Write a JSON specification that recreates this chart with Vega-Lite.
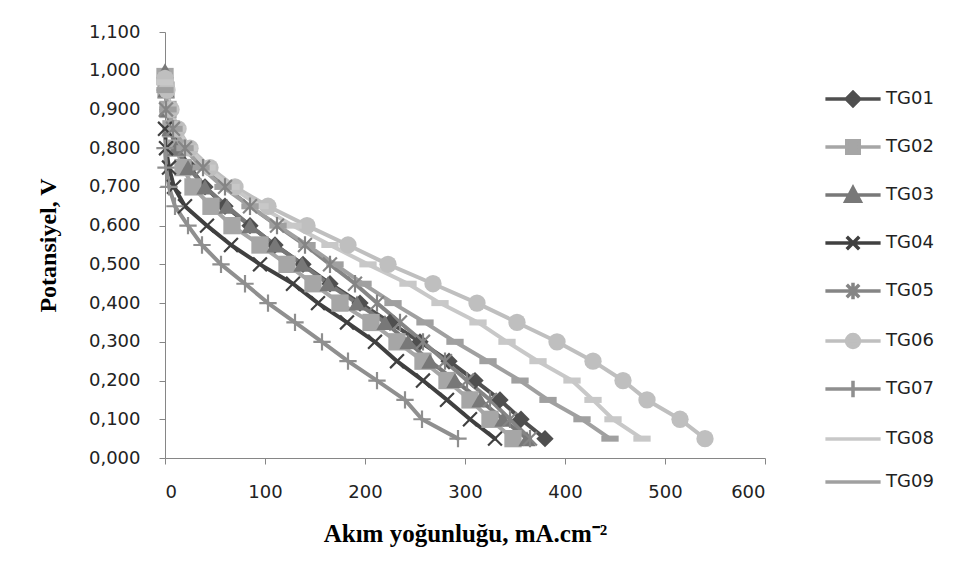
{
  "$schema": "https://vega.github.io/schema/vega-lite/v6.json",
  "width": 600,
  "height": 426,
  "autosize": {"type": "none"},
  "padding": {"left": 165, "top": 32, "right": 195, "bottom": 120},
  "background": "white",
  "config": {"view": {"stroke": null}},
  "data": {"values": [
    {"s":"TG01","i":0,"v":0.95},{"s":"TG01","i":3,"v":0.90},{"s":"TG01","i":7,"v":0.85},{"s":"TG01","i":13,"v":0.80},{"s":"TG01","i":25,"v":0.75},{"s":"TG01","i":40,"v":0.70},{"s":"TG01","i":60,"v":0.65},{"s":"TG01","i":85,"v":0.60},{"s":"TG01","i":110,"v":0.55},{"s":"TG01","i":138,"v":0.50},{"s":"TG01","i":165,"v":0.45},{"s":"TG01","i":195,"v":0.40},{"s":"TG01","i":225,"v":0.35},{"s":"TG01","i":255,"v":0.30},{"s":"TG01","i":284,"v":0.25},{"s":"TG01","i":310,"v":0.20},{"s":"TG01","i":335,"v":0.15},{"s":"TG01","i":356,"v":0.10},{"s":"TG01","i":380,"v":0.05},
    {"s":"TG02","i":0,"v":0.985},{"s":"TG02","i":1,"v":0.95},{"s":"TG02","i":3,"v":0.90},{"s":"TG02","i":6,"v":0.85},{"s":"TG02","i":11,"v":0.80},{"s":"TG02","i":18,"v":0.75},{"s":"TG02","i":28,"v":0.70},{"s":"TG02","i":46,"v":0.65},{"s":"TG02","i":67,"v":0.60},{"s":"TG02","i":95,"v":0.55},{"s":"TG02","i":122,"v":0.50},{"s":"TG02","i":148,"v":0.45},{"s":"TG02","i":175,"v":0.40},{"s":"TG02","i":206,"v":0.35},{"s":"TG02","i":232,"v":0.30},{"s":"TG02","i":258,"v":0.25},{"s":"TG02","i":282,"v":0.20},{"s":"TG02","i":305,"v":0.15},{"s":"TG02","i":325,"v":0.10},{"s":"TG02","i":348,"v":0.05},
    {"s":"TG03","i":0,"v":1.00},{"s":"TG03","i":1,"v":0.95},{"s":"TG03","i":2,"v":0.90},{"s":"TG03","i":5,"v":0.85},{"s":"TG03","i":11,"v":0.80},{"s":"TG03","i":23,"v":0.75},{"s":"TG03","i":40,"v":0.70},{"s":"TG03","i":62,"v":0.65},{"s":"TG03","i":85,"v":0.60},{"s":"TG03","i":110,"v":0.55},{"s":"TG03","i":137,"v":0.50},{"s":"TG03","i":163,"v":0.45},{"s":"TG03","i":192,"v":0.40},{"s":"TG03","i":220,"v":0.35},{"s":"TG03","i":243,"v":0.30},{"s":"TG03","i":265,"v":0.25},{"s":"TG03","i":290,"v":0.20},{"s":"TG03","i":315,"v":0.15},{"s":"TG03","i":338,"v":0.10},{"s":"TG03","i":362,"v":0.05},
    {"s":"TG04","i":0,"v":0.85},{"s":"TG04","i":1,"v":0.80},{"s":"TG04","i":4,"v":0.75},{"s":"TG04","i":9,"v":0.70},{"s":"TG04","i":20,"v":0.65},{"s":"TG04","i":42,"v":0.60},{"s":"TG04","i":66,"v":0.55},{"s":"TG04","i":95,"v":0.50},{"s":"TG04","i":128,"v":0.45},{"s":"TG04","i":153,"v":0.40},{"s":"TG04","i":182,"v":0.35},{"s":"TG04","i":210,"v":0.30},{"s":"TG04","i":232,"v":0.25},{"s":"TG04","i":258,"v":0.20},{"s":"TG04","i":282,"v":0.15},{"s":"TG04","i":305,"v":0.10},{"s":"TG04","i":330,"v":0.05},
    {"s":"TG05","i":1,"v":0.90},{"s":"TG05","i":8,"v":0.85},{"s":"TG05","i":20,"v":0.80},{"s":"TG05","i":38,"v":0.75},{"s":"TG05","i":60,"v":0.70},{"s":"TG05","i":85,"v":0.65},{"s":"TG05","i":112,"v":0.60},{"s":"TG05","i":140,"v":0.55},{"s":"TG05","i":165,"v":0.50},{"s":"TG05","i":190,"v":0.45},{"s":"TG05","i":212,"v":0.40},{"s":"TG05","i":235,"v":0.35},{"s":"TG05","i":258,"v":0.30},{"s":"TG05","i":280,"v":0.25},{"s":"TG05","i":302,"v":0.20},{"s":"TG05","i":325,"v":0.15},{"s":"TG05","i":345,"v":0.10},{"s":"TG05","i":365,"v":0.05},
    {"s":"TG06","i":0,"v":0.98},{"s":"TG06","i":2,"v":0.95},{"s":"TG06","i":6,"v":0.90},{"s":"TG06","i":13,"v":0.85},{"s":"TG06","i":25,"v":0.80},{"s":"TG06","i":45,"v":0.75},{"s":"TG06","i":70,"v":0.70},{"s":"TG06","i":103,"v":0.65},{"s":"TG06","i":142,"v":0.60},{"s":"TG06","i":183,"v":0.55},{"s":"TG06","i":223,"v":0.50},{"s":"TG06","i":268,"v":0.45},{"s":"TG06","i":312,"v":0.40},{"s":"TG06","i":352,"v":0.35},{"s":"TG06","i":392,"v":0.30},{"s":"TG06","i":428,"v":0.25},{"s":"TG06","i":458,"v":0.20},{"s":"TG06","i":482,"v":0.15},{"s":"TG06","i":515,"v":0.10},{"s":"TG06","i":540,"v":0.05},
    {"s":"TG07","i":0,"v":0.80},{"s":"TG07","i":1,"v":0.75},{"s":"TG07","i":4,"v":0.70},{"s":"TG07","i":10,"v":0.65},{"s":"TG07","i":23,"v":0.60},{"s":"TG07","i":37,"v":0.55},{"s":"TG07","i":56,"v":0.50},{"s":"TG07","i":80,"v":0.45},{"s":"TG07","i":103,"v":0.40},{"s":"TG07","i":130,"v":0.35},{"s":"TG07","i":157,"v":0.30},{"s":"TG07","i":183,"v":0.25},{"s":"TG07","i":212,"v":0.20},{"s":"TG07","i":240,"v":0.15},{"s":"TG07","i":257,"v":0.10},{"s":"TG07","i":293,"v":0.05},
    {"s":"TG08","i":0,"v":0.97},{"s":"TG08","i":1,"v":0.95},{"s":"TG08","i":5,"v":0.90},{"s":"TG08","i":12,"v":0.85},{"s":"TG08","i":24,"v":0.80},{"s":"TG08","i":42,"v":0.75},{"s":"TG08","i":66,"v":0.70},{"s":"TG08","i":95,"v":0.65},{"s":"TG08","i":128,"v":0.60},{"s":"TG08","i":165,"v":0.55},{"s":"TG08","i":203,"v":0.50},{"s":"TG08","i":243,"v":0.45},{"s":"TG08","i":275,"v":0.40},{"s":"TG08","i":313,"v":0.35},{"s":"TG08","i":342,"v":0.30},{"s":"TG08","i":373,"v":0.25},{"s":"TG08","i":407,"v":0.20},{"s":"TG08","i":428,"v":0.15},{"s":"TG08","i":448,"v":0.10},{"s":"TG08","i":477,"v":0.05},
    {"s":"TG09","i":0,"v":0.95},{"s":"TG09","i":3,"v":0.90},{"s":"TG09","i":9,"v":0.85},{"s":"TG09","i":20,"v":0.80},{"s":"TG09","i":36,"v":0.75},{"s":"TG09","i":58,"v":0.70},{"s":"TG09","i":85,"v":0.65},{"s":"TG09","i":113,"v":0.60},{"s":"TG09","i":142,"v":0.55},{"s":"TG09","i":170,"v":0.50},{"s":"TG09","i":198,"v":0.45},{"s":"TG09","i":228,"v":0.40},{"s":"TG09","i":260,"v":0.35},{"s":"TG09","i":290,"v":0.30},{"s":"TG09","i":323,"v":0.25},{"s":"TG09","i":355,"v":0.20},{"s":"TG09","i":383,"v":0.15},{"s":"TG09","i":417,"v":0.10},{"s":"TG09","i":445,"v":0.05}
  ]},
  "encoding": {
    "x": {
      "field": "i", "type": "quantitative",
      "scale": {"domain": [0, 600], "nice": false},
      "axis": {
        "title": "Akım yoğunluğu, mA.cm⁻²",
        "values": [0, 100, 200, 300, 400, 500, 600],
        "grid": false, "domainColor": "#868686", "tickColor": "#868686", "tickSize": 6,
        "labelFont": "DejaVu Sans", "labelFontSize": 18, "labelColor": "#222222", "labelPadding": 19,
        "titleFont": "Liberation Serif", "titleFontSize": 25, "titleFontWeight": "bold", "titleColor": "#000000",
        "titleY": 83, "titleBaseline": "alphabetic"
      }
    },
    "y": {
      "field": "v", "type": "quantitative",
      "scale": {"domain": [0, 1.1], "nice": false},
      "axis": {
        "title": "Potansiyel, V",
        "values": [0, 0.1, 0.2, 0.3, 0.4, 0.5, 0.6, 0.7, 0.8, 0.9, 1.0, 1.1],
        "labelExpr": "replace(format(datum.value, '.3f'), '.', ',')",
        "grid": false, "domainColor": "#868686", "tickColor": "#868686", "tickSize": 6,
        "labelFont": "DejaVu Sans", "labelFontSize": 18, "labelColor": "#222222", "labelPadding": 19,
        "titleFont": "Liberation Serif", "titleFontSize": 24, "titleFontWeight": "bold", "titleColor": "#000000",
        "titleX": -110, "titleBaseline": "alphabetic"
      }
    }
  },
  "layer": [
    {
      "mark": {"type": "line", "strokeWidth": 4, "strokeCap": "round", "strokeJoin": "round"},
      "encoding": {
        "order": {"field": "v", "sort": "descending"},
        "stroke": {
          "field": "s", "type": "nominal",
          "scale": {
            "range": ["#4f4f4f","#a6a6a6","#787878","#404040","#858585","#bfbfbf","#8f8f8f","#c8c8c8","#a0a0a0"]
          },
          "legend": {
            "title": null, "orient": "none", "legendX": 662, "legendY": 41,
            "symbolSize": 2304, "rowPadding": 8, "padding": 0,
            "labelFont": "DejaVu Sans", "labelFontSize": 18, "labelColor": "#222222", "labelOffset": 7,
            "encode": {
              "symbols": {
                "update": {
                  "shape": {"signal": "datum.value==='TG01'?'M-1.15,0H1.15M0,-0.28L0.28,0L0,0.28L-0.28,0Z':datum.value==='TG02'?'M-1.15,0H1.15M-0.26,-0.26H0.26V0.26H-0.26Z':datum.value==='TG03'?'M-1.15,0H1.15M0,-0.3L0.3,0.26L-0.3,0.26Z':datum.value==='TG04'?'M-1.15,0H1.15M-0.26,-0.26L0.26,0.26M-0.26,0.26L0.26,-0.26':datum.value==='TG05'?'M-1.15,0H1.15M-0.26,-0.26L0.26,0.26M-0.26,0.26L0.26,-0.26M0,-0.34V0.34':datum.value==='TG06'?'M-1.15,0H1.15M-0.27,0A0.27,0.27,0,1,0,0.27,0A0.27,0.27,0,1,0,-0.27,0Z':datum.value==='TG07'?'M-1.15,0H1.15M0,-0.34V0.34':'M-1.15,0H1.15'"},
                  "fill": {"signal": "scale('stroke', datum.value)"},
                  "stroke": {"signal": "scale('stroke', datum.value)"},
                  "strokeWidth": {"value": 3.5},
                  "size": {"value": 2304},
                  "opacity": {"value": 1},
                  "fillOpacity": {"value": 1},
                  "strokeOpacity": {"value": 1}
                }
              }
            }
          }
        }
      }
    },
    {
      "transform": [{"filter": "indexof(['TG04','TG05','TG07'], datum.s) < 0"}],
      "mark": {"type": "point", "filled": true, "opacity": 1},
      "encoding": {
        "color": {
          "field": "s", "type": "nominal",
          "scale": {
            "domain": ["TG01","TG02","TG03","TG04","TG05","TG06","TG07","TG08","TG09"],
            "range": ["#4f4f4f","#a6a6a6","#787878","#404040","#858585","#bfbfbf","#8f8f8f","#c8c8c8","#a0a0a0"]
          },
          "legend": null
        },
        "shape": {
          "field": "s", "type": "nominal",
          "scale": {
            "domain": ["TG01","TG02","TG03","TG04","TG05","TG06","TG07","TG08","TG09"],
            "range": ["diamond","square","triangle-up","M-0.8,-0.8L0.8,0.8M-0.8,0.8L0.8,-0.8","M-0.8,-0.8L0.8,0.8M-0.8,0.8L0.8,-0.8M0,-1L0,1","circle","M-1,0H1M0,-1V1","M-1,-0.35H1V0.35H-1Z","M-1,-0.35H1V0.35H-1Z"]
          },
          "legend": null
        },
        "size": {
          "field": "s", "type": "nominal",
          "scale": {
            "domain": ["TG01","TG02","TG03","TG04","TG05","TG06","TG07","TG08","TG09"],
            "range": [300, 300, 330, 324, 324, 400, 289, 324, 324]
          },
          "legend": null
        }
      }
    },
    {
      "transform": [{"filter": "indexof(['TG04','TG05','TG07'], datum.s) >= 0"}],
      "mark": {"type": "point", "filled": false, "strokeWidth": 2.2, "opacity": 1},
      "encoding": {
        "color": {"field": "s", "type": "nominal", "legend": null},
        "shape": {"field": "s", "type": "nominal", "legend": null},
        "size": {"field": "s", "type": "nominal", "legend": null}
      }
    }
  ]
}
